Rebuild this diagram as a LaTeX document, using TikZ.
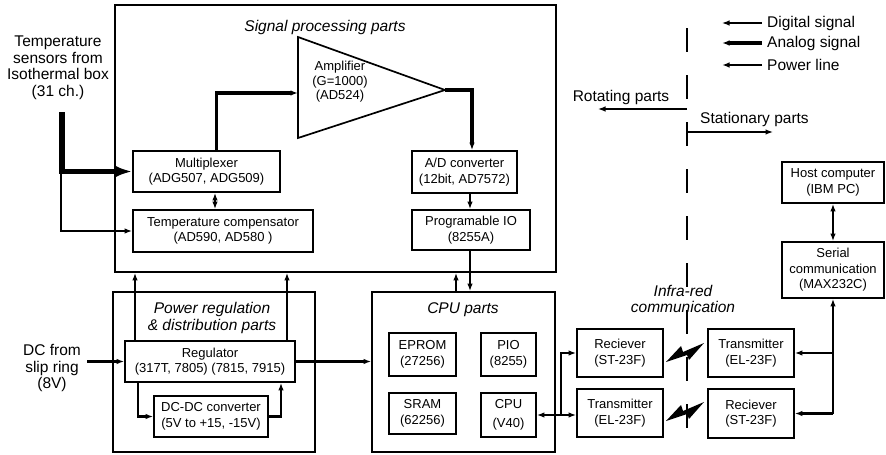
\documentclass[tikz,border=0pt]{standalone}
\usepackage{fontspec}
\setmainfont{Liberation Sans}
\usetikzlibrary{arrows.meta,calc}
\begin{document}
\begin{tikzpicture}[x=1pt,y=-1pt,
  box/.style={draw,line width=1.7pt,inner sep=0pt,align=center,font=\fontsize{13}{15.5}\selectfont},
  group/.style={draw,line width=1.7pt,inner sep=0pt},
  biglabel/.style={align=center,font=\fontsize{15.5}{16.5}\selectfont,inner sep=0pt},
  grouptitle/.style={align=center,font=\fontsize{15.5}{17}\selectfont\itshape,inner sep=0pt},
  arr/.style={-{Latex[length=7.5pt,width=5.5pt]}},
  biarr/.style={{Latex[length=7.5pt,width=5.5pt]}-{Latex[length=7.5pt,width=5.5pt]}},
  digital/.style={line width=1.4pt},
  power/.style={line width=2.1pt},
  analog/.style={line width=3.2pt},
]
\useasboundingbox (0,0) rectangle (886,455);

% ---------- group boxes ----------
\node[group,minimum width=441pt,minimum height=267pt] (sig) at (335.5,138.5) {};
\node[grouptitle] (sigt) at (325,27) {Signal processing parts};
\node[group,minimum width=202pt,minimum height=160pt] (pwr) at (214,372) {};
\node[grouptitle] (pwrt) at (212,318) {Power regulation\\\& distribution parts};
\node[group,minimum width=183pt,minimum height=160pt] (cpup) at (463.5,372) {};
\node[grouptitle] (cpupt) at (463,310) {CPU parts};

% ---------- signal processing ----------
\node[box,minimum width=147pt,minimum height=41pt] (mux) at (206.5,171.5) {Multiplexer\\(ADG507, ADG509)};
\node[box,minimum width=180pt,minimum height=42pt] (tcomp) at (223,231) {Temperature compensator\\(AD590, AD580 )};
\node[box,minimum width=105pt,minimum height=42pt] (adc) at (464.5,172) {A/D converter\\(12bit, AD7572)};
\node[box,minimum width=118pt,minimum height=40pt] (pioA) at (471,230) {Programable IO\\(8255A)};
\draw[line width=1.7pt,line join=miter] (298,37) coordinate (ampa) -- (445,90) coordinate (ampout) -- (298,138) coordinate (ampb) -- cycle;
\coordinate (ampin) at (298,93);
\node[align=center,font=\fontsize{13}{14.5}\selectfont,inner sep=0pt] (ampt) at (340,82) {Amplifier\\(G=1000)\\(AD524)};

% ---------- power ----------
\node[box,minimum width=170pt,minimum height=41pt] (reg) at (210,361.5) {Regulator\\(317T, 7805) (7815, 7915)};
\node[box,minimum width=114pt,minimum height=41pt] (dcdc) at (211,416.5) {DC-DC converter\\(5V to +15, -15V)};

% ---------- CPU ----------
\node[box,minimum width=67pt,minimum height=43pt] (eprom) at (422.5,354.5) {EPROM\\(27256)};
\node[box,minimum width=55pt,minimum height=43pt] (pio) at (508.5,354.5) {PIO\\(8255)};
\node[box,minimum width=67pt,minimum height=41pt] (sram) at (422.5,413.5) {SRAM\\(62256)};
\node[box,minimum width=55pt,minimum height=44pt,font=\fontsize{13}{19}\selectfont] (cpu) at (508.5,415) {CPU\\(V40)};

% ---------- IR ----------
\node[box,minimum width=86pt,minimum height=48pt] (recL) at (620,353) {Reciever\\(ST-23F)};
\node[box,minimum width=86pt,minimum height=48pt] (trL) at (620,413) {Transmitter\\(EL-23F)};
\node[box,minimum width=86pt,minimum height=48pt] (trR) at (751,353) {Transmitter\\(EL-23F)};
\node[box,minimum width=86pt,minimum height=49pt] (recR) at (751,413.5) {Reciever\\(ST-23F)};
\node[box,minimum width=102pt,minimum height=56pt] (serial) at (833,270) {Serial\\communication\\(MAX232C)};
\node[box,minimum width=102pt,minimum height=41pt] (host) at (833,182.5) {Host computer\\(IBM PC)};
\node[grouptitle,font=\fontsize{15.5}{16}\selectfont\itshape] (irt) at (683,299) {Infra-red\\communication};

% ---------- outside labels ----------
\node[biglabel] (sens) at (58,68) {Temperature\\sensors from\\Isothermal box\\(31 ch.)};
\node[biglabel] (dc) at (52,368) {DC from\\slip ring\\(8V)};

% ---------- legend ----------
\node[biglabel,anchor=west] (lgd) at (767,23) {Digital signal};
\node[biglabel,anchor=west] (lga) at (767,43) {Analog signal};
\node[biglabel,anchor=west] (lgp) at (767,65) {Power line};
\draw[digital,arr] ([xshift=-5pt]lgd.west) -- ++(-40,0);
\draw[analog,arr] ([xshift=-5pt]lga.west) -- ++(-40,0);
\draw[power,arr] ([xshift=-5pt]lgp.west) -- ++(-40,0);

% ---------- rotating / stationary ----------
\draw[line width=1.6pt,dash pattern=on 24pt off 23pt] (687,28) coordinate (div0) -- (687,430) coordinate (div1);
\node[biglabel] (rot) at (621,97) {Rotating parts};
\node[biglabel,anchor=west] (sta) at (700,119) {Stationary parts};
\draw[digital,arr] (div0 |- 0,109) -- (598,109);
\draw[digital,arr] (div0 |- 0,132) -- (773,132);

% ---------- lightning bolts ----------
\fill (666,362) -- (681,346) -- (683,352) -- (704,343) -- (689,360) -- (687,355) -- cycle;
\fill (666,421) -- (681,405) -- (683,411) -- (704,402) -- (689,419) -- (687,414) -- cycle;

% ---------- connectors ----------
\coordinate (s0) at (62,112);
\coordinate (s1) at (61,172);
\draw[line width=5.5pt,-{Latex[length=18pt,width=13pt]}] (s0) |- (mux.west);
\draw[digital,arr] (s1) |- (tcomp.west);
\draw[power,biarr] ([xshift=8.5pt]mux.south |- tcomp.north) -- ([xshift=8.5pt]mux.south);
\draw[analog,arr] ([xshift=10pt]mux.north) |- (ampin);
\draw[analog,arr] (ampout) -| ([xshift=7.5pt]adc.north);
\draw[power,arr] ([xshift=5.5pt]adc.south) -- ([xshift=5.5pt]adc.south |- pioA.north);
\draw[power,arr] ([xshift=-1pt]pioA.south) -- ([xshift=-1pt]pioA.south |- cpup.north);
\draw[power,arr] ([xshift=-7.5pt]cpup.north) -- ([xshift=-7.5pt]cpup.north |- sig.south);

\draw[power,arr] ([xshift=-75pt]reg.north) -- ([xshift=-75pt]reg.north |- sig.south);
\draw[power,arr] ([xshift=77pt]reg.north) -- ([xshift=77pt]reg.north |- sig.south);
\draw[power,arr] ([xshift=-72pt]reg.south) |- (dcdc.west);
\draw[power,arr] (dcdc.east) -| ([xshift=71pt]reg.south);
\coordinate (dcin) at (87,361.5);
\draw[power,arr] (dcin) -- (reg.west);
\draw[power,arr] (reg.east) -- (reg.east -| cpup.west);

\coordinate (busL) at (561,0);
\draw[power,biarr] (cpu.east) -- (cpu.east -| trL.west);
\draw[power,arr] (cpu.east -| busL) |- (recL.west);

\coordinate (busR) at (833,0);
\draw[power,arr] (recR.east -| busR) -- (serial.south -| busR);
\draw[power,arr] (trR.east -| busR) -- (trR.east);
\draw[power,arr] (recR.east -| busR) -- (recR.east);
\draw[power,biarr] (serial.north) -- (host.south);
\end{tikzpicture}
\end{document}
